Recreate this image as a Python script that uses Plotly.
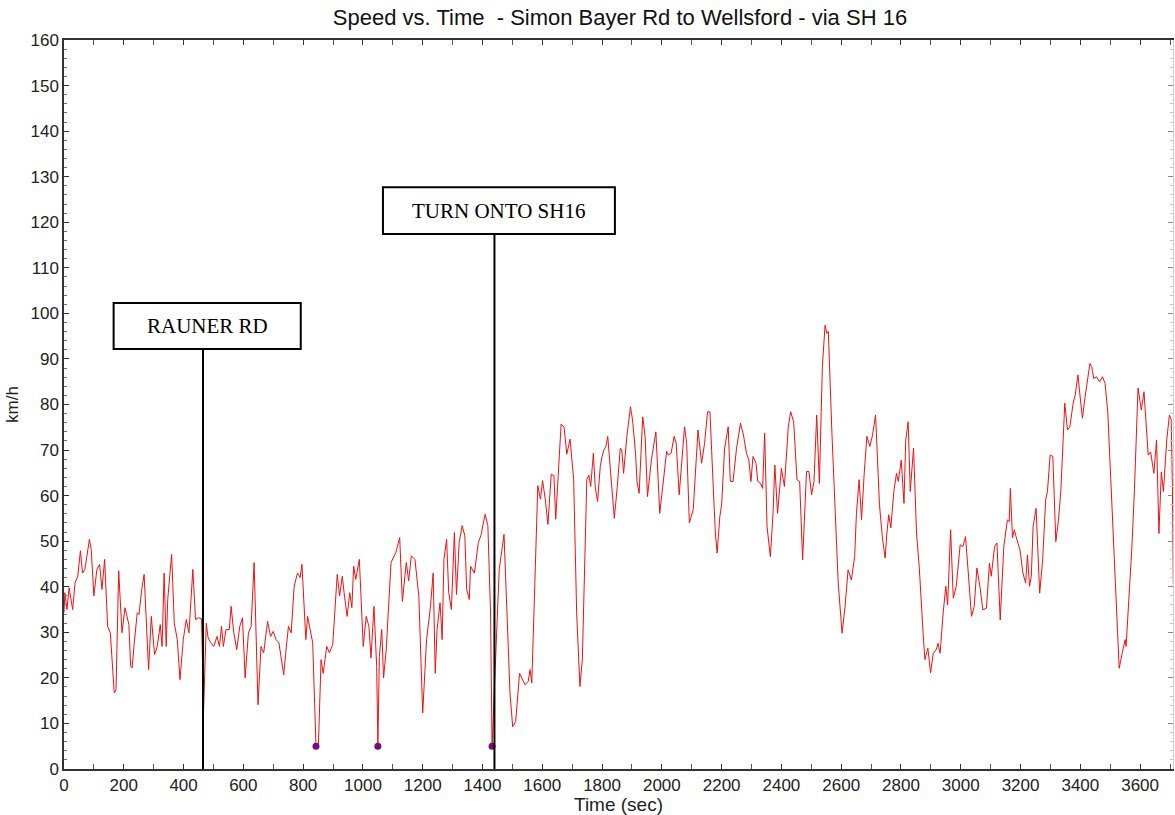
import plotly.graph_objects as go

# ---- data ----
time_s = [0, 3, 7, 10, 17, 29, 37, 46, 55, 62, 70, 85, 91, 100, 110, 119, 127, 136, 146, 155,
          168, 174, 183, 194, 204, 217, 223, 228, 235, 245, 251, 260, 268, 277, 283, 292, 303,
          312, 322, 328, 335, 342, 347, 360, 369, 379, 388, 399, 409, 418, 431, 440, 450, 460,
          467, 476, 482, 491, 501, 512, 520, 527, 533, 542, 553, 559, 568, 578, 588, 597, 606,
          617, 626, 636, 649, 659, 668, 681, 691, 700, 709, 719, 735, 745, 751, 760, 770, 781,
          790, 796, 809, 815, 824, 832, 843, 851, 860, 867, 879, 888, 899, 909, 914, 922, 931,
          937, 947, 956, 963, 969, 976, 988, 1001, 1011, 1020, 1027, 1037, 1046, 1050, 1055,
          1063, 1069, 1078, 1094, 1110, 1123, 1132, 1145, 1153, 1162, 1174, 1187, 1200, 1213,
          1226, 1235, 1242, 1248, 1258, 1265, 1271, 1280, 1287, 1296, 1306, 1313, 1322, 1332,
          1341, 1347, 1356, 1360, 1373, 1386, 1396, 1401, 1409, 1418, 1427, 1432, 1446, 1456,
          1472, 1482, 1492, 1501, 1511, 1524, 1542, 1553, 1559, 1565, 1569, 1585, 1594, 1601,
          1610, 1619, 1630, 1639, 1645, 1654, 1663, 1673, 1682, 1693, 1705, 1715, 1726, 1734,
          1743, 1749, 1756, 1762, 1771, 1777, 1785, 1794, 1800, 1806, 1813, 1819, 1828, 1841,
          1851, 1861, 1866, 1872, 1883, 1895, 1902, 1912, 1917, 1924, 1936, 1944, 1952, 1965,
          1980, 1993, 2003, 2016, 2022, 2031, 2041, 2048, 2058, 2067, 2076, 2083, 2092, 2105,
          2121, 2133, 2143, 2153, 2161, 2168, 2179, 2185, 2194, 2200, 2210, 2222, 2229, 2238,
          2250, 2263, 2273, 2283, 2291, 2298, 2305, 2315, 2321, 2330, 2337, 2344, 2352, 2363,
          2372, 2378, 2387, 2400, 2410, 2423, 2431, 2441, 2452, 2461, 2471, 2484, 2492, 2501,
          2509, 2518, 2527, 2537, 2546, 2552, 2557, 2569, 2578, 2590, 2603, 2613, 2623, 2634,
          2645, 2651, 2660, 2668, 2677, 2686, 2696, 2705, 2715, 2721, 2728, 2738, 2747, 2753,
          2759, 2766, 2776, 2785, 2791, 2801, 2810, 2816, 2824, 2831, 2842, 2852, 2861, 2874,
          2880, 2890, 2899, 2908, 2918, 2924, 2931, 2941, 2950, 2956, 2966, 2975, 2985, 2998,
          3007, 3016, 3026, 3036, 3045, 3054, 3064, 3074, 3086, 3096, 3102, 3113, 3121, 3132,
          3144, 3156, 3162, 3166, 3173, 3179, 3188, 3198, 3208, 3217, 3223, 3230, 3236, 3242,
          3252, 3264, 3274, 3284, 3290, 3299, 3308, 3318, 3327, 3335, 3348, 3357, 3365, 3376,
          3383, 3392, 3398, 3407, 3416, 3426, 3432, 3438, 3445, 3454, 3464, 3474, 3483, 3492,
          3502, 3512, 3521, 3530, 3540, 3550, 3553, 3562, 3572, 3581, 3593, 3604, 3613, 3627,
          3635, 3646, 3655, 3663, 3671, 3678, 3689, 3698, 3704, 3708, 3711]

speed_kmh = [34.3, 38.7, 36.5, 35.0, 39.8, 35.0, 40.9, 42.3, 47.9, 43.0, 43.8, 50.4, 48.2, 38.0,
             43.8, 44.9, 39.4, 46.0, 31.3, 29.9, 16.7, 17.4, 43.5, 29.9, 35.4, 31.7, 22.5, 22.2,
             27.7, 34.3, 33.9, 39.4, 42.7, 27.7, 21.8, 33.5, 25.1, 26.9, 31.7, 26.9, 43.0, 26.9,
             37.2, 47.1, 32.0, 28.4, 19.6, 28.4, 32.8, 29.9, 43.8, 32.8, 33.2, 33.0, 13.0, 32.0,
             28.8, 27.7, 26.9, 29.1, 26.9, 31.3, 26.9, 30.6, 30.6, 35.7, 29.9, 26.2, 31.3, 33.2,
             20.0, 29.9, 31.3, 45.3, 14.1, 26.9, 25.5, 32.4, 29.1, 30.2, 28.4, 27.7, 20.7, 27.7,
             31.3, 29.9, 40.1, 43.0, 42.0, 44.9, 28.4, 33.5, 29.9, 27.7, 5.0, 5.0, 24.0, 21.0,
             26.9, 25.5, 27.3, 38.7, 42.7, 38.0, 42.3, 38.7, 33.5, 38.7, 35.4, 44.5, 41.6, 46.0,
             26.9, 33.5, 31.3, 24.4, 35.7, 22.5, 5.0, 24.7, 30.6, 20.0, 26.2, 45.3, 47.5, 50.8,
             36.8, 45.3, 41.3, 46.8, 46.0, 38.0, 12.3, 28.4, 35.7, 43.0, 21.0, 30.6, 36.5, 28.4,
             46.0, 50.4, 38.7, 35.0, 51.9, 38.3, 49.7, 53.4, 51.2, 39.4, 37.2, 44.5, 43.0, 49.7,
             51.5, 53.4, 55.9, 53.4, 34.3, 5.0, 26.9, 43.8, 51.5, 34.3, 16.7, 9.3, 10.4, 21.0,
             18.5, 19.2, 21.8, 18.9, 28.4, 62.2, 59.2, 63.3, 59.2, 53.7, 64.7, 64.4, 54.8, 66.6,
             75.7, 75.0, 69.1, 72.4, 63.6, 34.3, 18.1, 24.0, 44.4, 63.5, 64.5, 62.0, 69.3, 62.0,
             58.7, 66.4, 68.6, 70.0, 70.8, 73.0, 65.6, 55.0, 62.0, 70.4, 70.0, 64.9, 73.0, 79.5,
             76.6, 69.3, 63.1, 60.5, 77.3, 73.0, 59.8, 67.8, 74.0, 56.1, 62.0, 69.7, 68.9, 69.3,
             73.0, 71.5, 60.2, 68.6, 75.1, 71.5, 54.0, 56.9, 74.4, 67.1, 71.5, 78.4, 78.4, 67.8,
             51.8, 47.4, 55.4, 58.0, 70.4, 75.1, 63.1, 63.1, 70.4, 75.9, 73.3, 69.3, 67.8, 63.1,
             68.6, 67.1, 63.1, 62.7, 61.6, 73.7, 53.2, 46.6, 56.1, 66.7, 56.1, 66.0, 62.0, 75.1,
             78.4, 76.2, 63.5, 63.1, 45.9, 65.3, 65.3, 60.2, 63.1, 77.7, 62.7, 88.3, 97.4, 95.6,
             96.0, 73.7, 59.1, 40.8, 29.8, 35.7, 43.7, 41.5, 46.6, 56.1, 63.5, 54.7, 64.9, 73.0,
             70.8, 73.3, 77.7, 67.8, 58.0, 50.7, 46.3, 51.8, 55.8, 52.9, 60.9, 64.9, 63.1, 67.8,
             58.3, 72.2, 76.2, 60.9, 70.4, 51.8, 44.4, 29.8, 24.0, 26.5, 21.1, 25.4, 26.2, 27.6,
             25.4, 34.2, 40.1, 36.0, 52.5, 37.5, 40.1, 49.2, 48.8, 51.0, 43.0, 33.5, 35.7, 44.1,
             40.1, 34.9, 35.3, 45.2, 42.3, 48.8, 49.6, 32.7, 48.8, 54.7, 54.3, 61.6, 50.7, 52.5,
             50.3, 48.1, 43.0, 40.8, 47.0, 40.1, 42.3, 53.2, 57.2, 38.6, 45.9, 59.1, 60.9, 68.9,
             68.6, 49.9, 54.7, 61.3, 80.3, 74.4, 75.1, 80.3, 82.1, 86.5, 82.5, 77.0, 81.7, 86.5,
             89.0, 88.3, 85.7, 86.1, 85.0, 86.1, 84.6, 78.1, 63.5, 45.9, 34.9, 22.1, 25.4, 28.4,
             26.9, 36.4, 48.1, 61.3, 83.6, 78.8, 82.8, 68.9, 69.6, 64.9, 72.2, 51.7, 65.2, 60.9,
             72.2, 77.7, 76.6, 62.0, 40.5]

stop_time = [843, 1050, 1432]
stop_speed = [5, 5, 5]

event_labels = ["RAUNER RD", "TURN ONTO SH16"]
event_time = [465, 1440]

x_ticks = list(range(0, 3601, 200))
y_ticks = list(range(0, 161, 10))

# ---- figure ----
FONT = "Liberation Sans, Arial, sans-serif"
SERIF = "Liberation Serif, Times New Roman, serif"

fig = go.Figure()

fig.add_trace(go.Scatter(x=time_s, y=speed_kmh, mode="lines",
                         line=dict(color="#f01010", width=1), showlegend=False,
                         hoverinfo="x+y"))
fig.add_trace(go.Scatter(x=stop_time, y=stop_speed, mode="markers",
                         marker=dict(color="#7a0a7a", size=7), showlegend=False))

# event boxes (box extents in data units) and connector lines
box_geom = [dict(x0=166, x1=792, y0=92.2, y1=102.3),
            dict(x0=1067, x1=1843, y0=117.4, y1=127.7)]
for lab, t, b in zip(event_labels, event_time, box_geom):
    fig.add_shape(type="line", x0=t, x1=t, y0=0, y1=b["y0"], xref="x", yref="y",
                  line=dict(color="black", width=2))
    fig.add_shape(type="rect", x0=b["x0"], x1=b["x1"], y0=b["y0"], y1=b["y1"],
                  xref="x", yref="y", line=dict(color="black", width=2),
                  fillcolor="white")
    fig.add_annotation(x=(b["x0"] + b["x1"]) / 2, y=(b["y0"] + b["y1"]) / 2,
                       xref="x", yref="y", text=lab, showarrow=False,
                       font=dict(family=SERIF, size=21, color="black"))

fig.update_layout(
    width=1175, height=815,
    margin=dict(l=64, r=2, t=40, b=46),
    paper_bgcolor="white", plot_bgcolor="white",
    title=dict(text="Speed vs. Time  - Simon Bayer Rd to Wellsford - via SH 16",
               x=620 / 1175, xanchor="center", y=1 - 17 / 815, yanchor="middle",
               xref="container", yref="container",
               font=dict(family=FONT, size=22, color="#111")),
    font=dict(family=FONT, size=17, color="#222"),
)

fig.update_xaxes(range=[0, 3710], tickvals=x_ticks, ticks="inside", ticklen=5,
                 tickcolor="#333", showline=True, linecolor="#333", linewidth=1.5,
                 mirror="allticks", showgrid=False, zeroline=False, automargin=False,
                 minor=dict(dtick=100, ticks="inside", ticklen=3, tickcolor="#555"),
                 tickfont=dict(family=FONT, size=17, color="#222"),
                 title=dict(text="Time (sec)", font=dict(family=FONT, size=19, color="#222"),
                            standoff=0))
fig.update_yaxes(range=[0, 160], tickvals=y_ticks, ticks="inside", ticklen=5,
                 tickcolor="#333", showline=True, linecolor="#333", linewidth=1.5,
                 mirror=False, showgrid=False, zeroline=False, automargin=False,
                 minor=dict(dtick=2, ticks="inside", ticklen=3, tickcolor="#777"),
                 tickfont=dict(family=FONT, size=17, color="#222"),
                 title=dict(text="km/h", font=dict(family=FONT, size=17, color="#222"),
                            standoff=8))

# light right-hand frame with ticks
fig.update_layout(yaxis2=dict(overlaying="y", side="right", range=[0, 160],
                              tickvals=y_ticks, ticks="inside", ticklen=5,
                              tickcolor="#888", showticklabels=False, showline=True,
                              linecolor="#cfcfcf", linewidth=1, showgrid=False,
                              zeroline=False, automargin=False,
                              minor=dict(dtick=2, ticks="inside", ticklen=3,
                                         tickcolor="#c8c8c8")))
fig.add_trace(go.Scatter(x=[None], y=[None], yaxis="y2", showlegend=False))

fig.write_html("out.html", config={"displayModeBar": False},
               post_script="document.body.style.margin='0';document.body.style.padding='0';")
